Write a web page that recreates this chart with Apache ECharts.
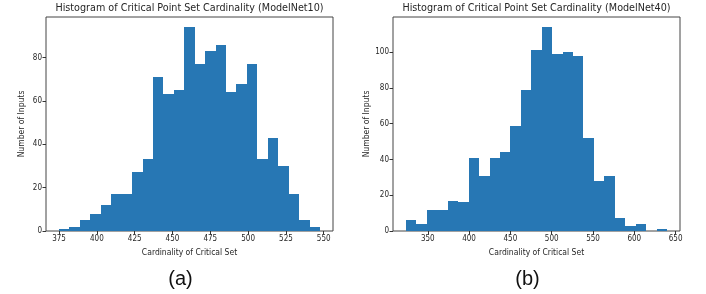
<!DOCTYPE html>
<html><head><meta charset="utf-8">
<script src="https://cdn.jsdelivr.net/npm/echarts@6/dist/echarts.min.js"></script>
<style>html,body{margin:0;padding:0;background:#fff}#c{width:706px;height:294px}</style>
</head><body><div id="c"></div>
<script>
// ModelNet10 histogram
const leftTitle = 'Histogram of Critical Point Set Cardinality (ModelNet10)';
const leftCounts = [1, 2, 5, 8, 12, 17, 17, 27, 33, 71, 63, 65, 94, 77, 83, 86, 64, 68, 77, 33, 43, 30, 17, 5, 2];
const leftRange = [375, 547.5];
const leftXTicks = [375, 400, 425, 450, 475, 500, 525, 550];
const leftYTicks = [0, 20, 40, 60, 80];
// ModelNet40 histogram
const rightTitle = 'Histogram of Critical Point Set Cardinality (ModelNet40)';
const rightCounts = [6, 4, 12, 12, 17, 16, 41, 31, 41, 44, 59, 79, 101, 114, 99, 100, 98, 52, 28, 31, 7, 3, 4, 0, 1];
const rightRange = [323.7, 639.5];
const rightXTicks = [350, 400, 450, 500, 550, 600, 650];
const rightYTicks = [0, 20, 40, 60, 80, 100];
const xName = 'Cardinality of Critical Set';
const yName = 'Number of Inputs';
const panelLabels = ['(a)', '(b)'];

const barColor = '#2777b4';
const textColor = '#262626';
const font = '"DejaVu Sans Condensed", "DejaVu Sans"';

function bins(counts, range) {
  const w = (range[1] - range[0]) / counts.length;
  return counts.map((c, i) => [range[0] + i * w, range[0] + (i + 1) * w, c]);
}
function pad(range, frac) { const m = (range[1] - range[0]) * frac; return [range[0] - m, range[1] + m]; }

const lx = pad(leftRange, 0.05), rx = pad(rightRange, 0.05);
const lyMax = Math.max(...leftCounts) * 1.05, ryMax = Math.max(...rightCounts) * 1.05;

function xAxis(gi, ext, ticks) {
  return {
    type: 'value', gridIndex: gi, min: ext[0], max: ext[1],
    axisLine: { show: false },
    axisTick: { show: true, customValues: ticks, length: 3.5, lineStyle: { color: '#333', width: 1 } },
    axisLabel: { customValues: ticks, fontSize: 8, color: textColor, fontFamily: font, margin: 4 },
    splitLine: { show: false },
    name: xName, nameLocation: 'middle', nameGap: 16,
    nameTextStyle: { fontSize: 8.5, color: textColor, fontFamily: font }
  };
}
function yAxis(gi, max, ticks) {
  return {
    type: 'value', gridIndex: gi, min: 0, max: max,
    axisLine: { show: false },
    axisTick: { show: true, customValues: ticks, length: 3.5, lineStyle: { color: '#333', width: 1 } },
    axisLabel: { customValues: ticks, fontSize: 8, color: textColor, fontFamily: font, margin: 4 },
    splitLine: { show: false },
    name: yName, nameLocation: 'middle', nameGap: 20,
    nameTextStyle: { fontSize: 8.5, color: textColor, fontFamily: font }
  };
}
function renderItem(params, api) {
  const p0 = api.coord([api.value(0), api.value(2)]);
  const p1 = api.coord([api.value(1), 0]);
  const x0 = Math.round(p0[0]), x1 = Math.round(p1[0]);
  const y0 = Math.round(p0[1]), y1 = Math.round(p1[1]);
  return { type: 'rect', shape: { x: x0, y: y0, width: x1 - x0, height: y1 - y0 }, style: { fill: barColor } };
}

const chart = echarts.init(document.getElementById('c'), null, { renderer: 'canvas' });
const titleStyle = { fontSize: 10.7, fontWeight: 'normal', color: textColor, fontFamily: font };
const panelStyle = { fontSize: 20, fontWeight: 'normal', color: '#111', fontFamily: 'Liberation Sans' };
chart.setOption({
  animation: false,
  backgroundColor: '#fff',
  title: [
    { text: leftTitle, left: 189.5, top: 3, padding: 0, textAlign: 'center', textStyle: titleStyle },
    { text: rightTitle, left: 536.5, top: 3, padding: 0, textAlign: 'center', textStyle: titleStyle },
    { text: panelLabels[0], left: 180.5, top: 269, padding: 0, textAlign: 'center', textStyle: panelStyle },
    { text: panelLabels[1], left: 527.5, top: 269, padding: 0, textAlign: 'center', textStyle: panelStyle }
  ],
  grid: [
    { left: 46, right: 373, top: 17, bottom: 63, show: true, borderColor: '#444', borderWidth: 1, backgroundColor: 'transparent' },
    { left: 393, right: 26, top: 17, bottom: 63, show: true, borderColor: '#444', borderWidth: 1, backgroundColor: 'transparent' }
  ],
  xAxis: [xAxis(0, lx, leftXTicks), xAxis(1, rx, rightXTicks)],
  yAxis: [yAxis(0, lyMax, leftYTicks), yAxis(1, ryMax, rightYTicks)],
  series: [
    { type: 'custom', xAxisIndex: 0, yAxisIndex: 0, renderItem, encode: { x: [0, 1], y: 2 }, data: bins(leftCounts, leftRange) },
    { type: 'custom', xAxisIndex: 1, yAxisIndex: 1, renderItem, encode: { x: [0, 1], y: 2 }, data: bins(rightCounts, rightRange) }
  ]
});
</script></body></html>
